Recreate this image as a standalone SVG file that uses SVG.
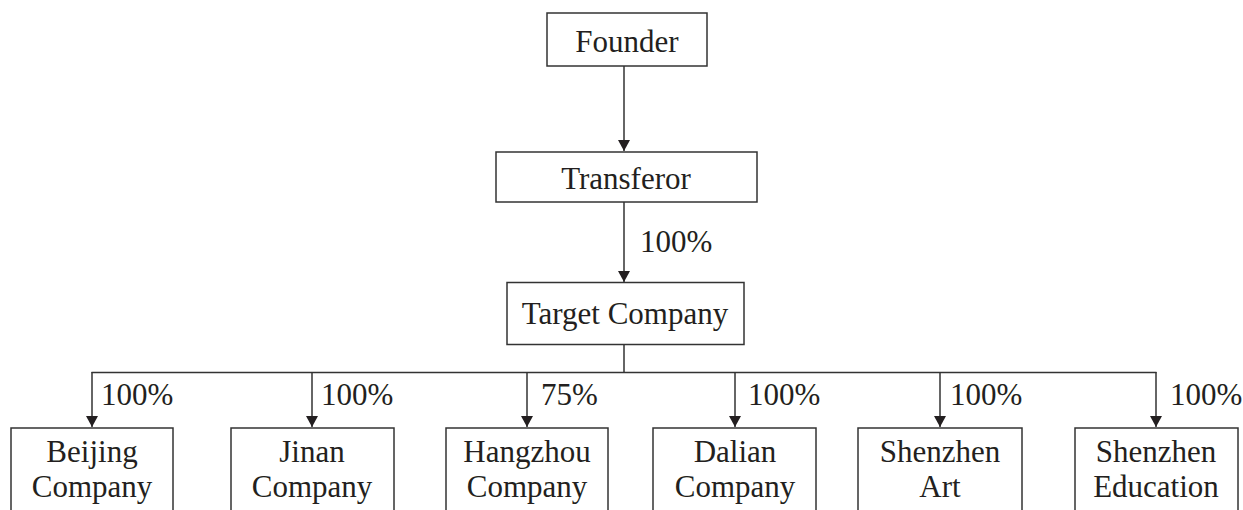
<svg xmlns="http://www.w3.org/2000/svg" width="1243" height="510" viewBox="0 0 1243 510">
<defs>
<style>
.box{fill:#fff;stroke:#333;stroke-width:1.5}
.ln{fill:none;stroke:#333;stroke-width:1.5}
.t{font-family:"Liberation Serif","Times New Roman",serif;font-size:31px;fill:#231f20;text-anchor:middle}
.lb{font-family:"Liberation Serif","Times New Roman",serif;font-size:31px;fill:#231f20}
</style>
<marker id="arr" markerWidth="12" markerHeight="12" refX="11" refY="6" orient="auto" markerUnits="userSpaceOnUse">
<path d="M0,0 L11,6 L0,12 z" fill="#231f20"/>
</marker>
</defs>
<rect width="1243" height="510" fill="#fff"/>
<g id="connectors">
<line class="ln" x1="624" y1="66" x2="624" y2="151" marker-end="url(#arr)"/>
<line class="ln" x1="624" y1="202" x2="624" y2="282" marker-end="url(#arr)"/>
<text class="lb" x="640" y="252">100%</text>
<line class="ln" x1="624" y1="345" x2="624" y2="372.5"/>
<line class="ln" x1="91.5" y1="372.5" x2="1156.5" y2="372.5"/>
<line class="ln" x1="92" y1="372" x2="92" y2="427" marker-end="url(#arr)"/>
<line class="ln" x1="312" y1="372" x2="312" y2="427" marker-end="url(#arr)"/>
<line class="ln" x1="527" y1="372" x2="527" y2="427" marker-end="url(#arr)"/>
<line class="ln" x1="735" y1="372" x2="735" y2="427" marker-end="url(#arr)"/>
<line class="ln" x1="940" y1="372" x2="940" y2="427" marker-end="url(#arr)"/>
<line class="ln" x1="1156" y1="372" x2="1156" y2="427" marker-end="url(#arr)"/>
<text class="lb" x="101" y="405">100%</text>
<text class="lb" x="321" y="405">100%</text>
<text class="lb" x="541" y="405">75%</text>
<text class="lb" x="748" y="405">100%</text>
<text class="lb" x="950" y="405">100%</text>
<text class="lb" x="1170" y="405">100%</text>
</g>
<g id="founder">
<rect class="box" x="547" y="13" width="160" height="53"/>
<text class="t" x="627" y="52">Founder</text>
</g>
<g id="transferor">
<rect class="box" x="496" y="152" width="261" height="50"/>
<text class="t" x="626" y="189">Transferor</text>
</g>
<g id="target">
<rect class="box" x="507" y="282.5" width="237" height="62"/>
<text class="t" x="625" y="324">Target Company</text>
</g>
<g id="beijing">
<rect class="box" x="11" y="428" width="162" height="100"/>
<text class="t" x="92" y="462">Beijing</text>
<text class="t" x="92" y="497">Company</text>
</g>
<g id="jinan">
<rect class="box" x="231" y="428" width="163" height="100"/>
<text class="t" x="312" y="462">Jinan</text>
<text class="t" x="312" y="497">Company</text>
</g>
<g id="hangzhou">
<rect class="box" x="446" y="428" width="162" height="100"/>
<text class="t" x="527" y="462">Hangzhou</text>
<text class="t" x="527" y="497">Company</text>
</g>
<g id="dalian">
<rect class="box" x="653" y="428" width="163" height="100"/>
<text class="t" x="735" y="462">Dalian</text>
<text class="t" x="735" y="497">Company</text>
</g>
<g id="shenzhen-art">
<rect class="box" x="858" y="428" width="164" height="100"/>
<text class="t" x="940" y="462">Shenzhen</text>
<text class="t" x="940" y="497">Art</text>
</g>
<g id="shenzhen-education">
<rect class="box" x="1075" y="428" width="163" height="100"/>
<text class="t" x="1156" y="462">Shenzhen</text>
<text class="t" x="1156" y="497">Education</text>
</g>
</svg>
